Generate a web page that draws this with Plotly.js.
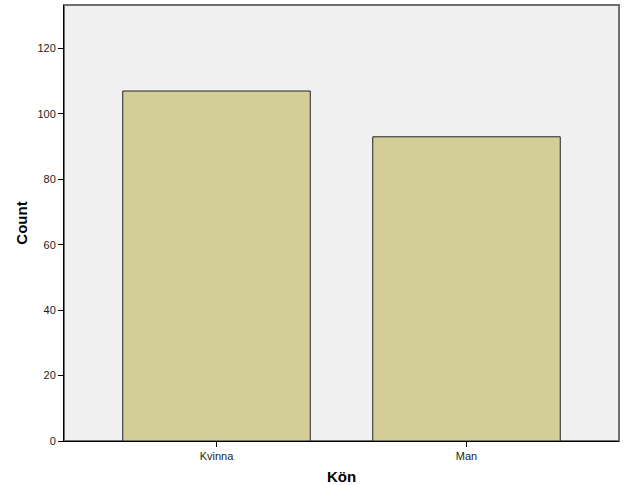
<!DOCTYPE html>
<html>
<head>
<meta charset="utf-8">
<script src="https://cdn.plot.ly/plotly-3.0.1.min.js"></script>
<style>
  html, body { margin: 0; padding: 0; background: #fff; }
  #main { width: 626px; height: 485px; }
</style>
</head>
<body>
<div id="main"></div>
<script>
// Kön vs Count
const categories = ['Kvinna', 'Man']
const counts = [107, 93]
const yTicks = [0, 20, 40, 60, 80, 100, 120]

const bars = {
  x: categories,
  y: counts,
  type: 'bar',
  width: 0.75,
  marker: {
    color: '#d3ce98',
    line: { color: '#222222', width: 1 }
  },
  hoverinfo: 'x+y'
}

const layout = {
  width: 626,
  height: 485,
  margin: { l: 64, r: 7, t: 5, b: 44 },
  paper_bgcolor: '#ffffff',
  plot_bgcolor: '#f0f0f0',
  font: { family: 'Arial, "Liberation Sans", sans-serif', size: 11, color: '#222' },
  showlegend: false,
  bargap: 0,
  xaxis: {
    type: 'category',
    range: [-0.61, 1.61],
    showgrid: false,
    zeroline: false,
    showline: true,
    linecolor: '#000',
    linewidth: 1,
    ticks: 'outside',
    ticklen: 5,
    tickcolor: '#000',
    tickfont: { size: 11, color: '#222' },
    title: { text: 'Kön', font: { size: 15, color: '#000', family: 'Arial, "Liberation Sans", sans-serif', weight: 'bold' }, standoff: 12 }
  },
  yaxis: {
    range: [0, 133.3],
    tickvals: yTicks,
    showgrid: false,
    zeroline: false,
    showline: true,
    linecolor: '#000',
    linewidth: 1,
    ticks: 'outside',
    ticklen: 5,
    tickcolor: '#000',
    tickfont: { size: 11, color: '#222' },
    title: { text: 'Count', font: { size: 15, color: '#000', family: 'Arial, "Liberation Sans", sans-serif', weight: 'bold' }, standoff: 6 }
  },
  shapes: [{
    type: 'rect', xref: 'paper', yref: 'paper',
    x0: 0, x1: 1, y0: 0, y1: 1,
    line: { color: '#707070', width: 2 },
    layer: 'below'
  }]
}

Plotly.newPlot('main', [bars], layout, { staticPlot: true })
</script>
</body>
</html>
